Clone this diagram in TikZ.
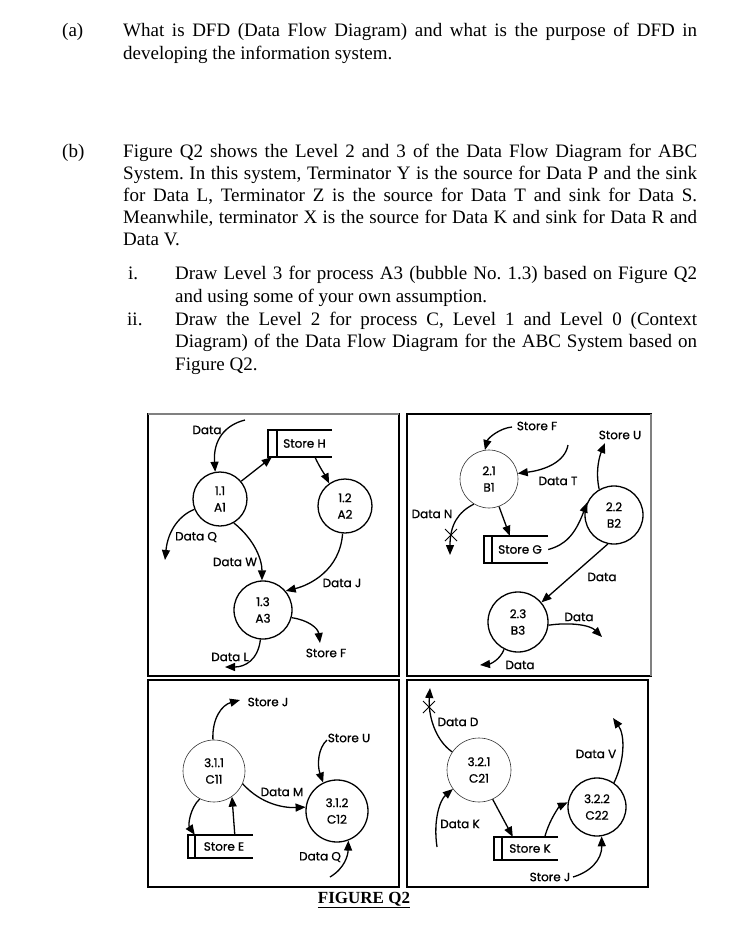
\documentclass[tikz,border=0pt]{standalone}
\usepackage{fontspec}
\setmainfont{Liberation Serif}
\newfontfamily\dfd{Poppins}[FakeBold=0.8]
\usetikzlibrary{arrows.meta}
\frenchspacing
\tikzset{
 body/.style={inner sep=0pt, anchor=base west, font=\fontsize{19}{22}\selectfont},
 proc/.style={circle, draw, line width=1.3pt, inner sep=0pt, align=center, font=\dfd\fontsize{12}{16.5}\selectfont},
 thinproc/.style={proc, line width=0.6pt, draw=black!80},
 lbl/.style={inner sep=1pt, font=\dfd\fontsize{12}{13}\selectfont},
 flow/.style={line width=1.3pt, -{Triangle[length=10pt,width=8pt]}},
 storebox/.style={inner sep=0pt, font=\dfd\fontsize{12}{13}\selectfont},
 storeline/.style={line width=1.5pt},
 frame/.style={line width=1.5pt},
 crossm/.style={line width=1pt},
}
\begin{document}
\begin{tikzpicture}[x=1pt,y=-1pt]
\useasboundingbox[fill=white] (0,0) rectangle (739,930);
% ---------- question text ----------
\node[body] (qa) at (62,36) {(a)};
\node[body] (a1l) at (123,36) {\makebox[574pt][s]{What is DFD (Data Flow Diagram) and what is the purpose of DFD in}};
\node[body] (a2l) at (123,59) {developing the information system.};
\node[body] (qb) at (62,157) {(b)};
\node[body] (b1l) at (123,157) {\makebox[574pt][s]{Figure Q2 shows the Level 2 and 3 of the Data Flow Diagram for ABC}};
\node[body] (b2l) at (123,179) {\makebox[574pt][s]{System. In this system, Terminator Y is the source for Data P and the sink}};
\node[body] (b3l) at (123,201) {\makebox[574pt][s]{for Data L, Terminator Z is the source for Data T and sink for Data S.}};
\node[body] (b4l) at (123,223) {\makebox[574pt][s]{Meanwhile, terminator X is the source for Data K and sink for Data R and}};
\node[body] (b5l) at (123,245) {Data V.};
\node[body] (qi) at (128,279) {i.};
\node[body] (i1l) at (175,279) {\makebox[522pt][s]{Draw Level 3 for process A3 (bubble No. 1.3) based on Figure Q2}};
\node[body] (i2l) at (175,302) {and using some of your own assumption.};
\node[body] (qii) at (127,325) {ii.};
\node[body] (ii1l) at (175,325) {\makebox[522pt][s]{Draw the Level 2 for process C, Level 1 and Level 0 (Context}};
\node[body] (ii2l) at (175,347) {\makebox[522pt][s]{Diagram) of the Data Flow Diagram for the ABC System based on}};
\node[body] (ii3l) at (175,370) {Figure Q2.};
% ---------- frames ----------
\draw[frame] (148,414) rectangle (399,676);
\draw[frame, draw=black!50] (148,414) -- (399,414);
\draw[frame] (407,414) rectangle (651,676);
\draw[frame, draw=black!50] (651,414) -- (651,676);
\draw[frame] (148,680) rectangle (399,887);
\draw[frame] (407,680) rectangle (648,887);
\node[inner sep=0pt, font=\bfseries\fontsize{17}{20}\selectfont] (fig) at (364,900) {\underline{FIGURE Q2}};
% ---------- panel 1 ----------
\node[proc, minimum size=54pt] (p11) at (220,499) {1.1\\A1};
\node[proc, minimum size=54pt] (p12) at (345,506) {1.2\\A2};
\node[proc, minimum size=58pt] (p13) at (263,610) {1.3\\A3};
\node[storebox, minimum width=64pt, minimum height=27pt] (sH) at (300,443.5) {\hspace*{9pt}Store H};
\draw[storeline] (sH.north east) -- (sH.north west) -- (sH.south west) -- (sH.south east);
\draw[storeline] ([xshift=9pt]sH.north west) -- ([xshift=9pt]sH.south west);
\node[lbl] (lA) at (207,430) {Data};
\node[lbl] (lQ) at (196,537) {Data Q};
\node[lbl] (lW) at (235,562) {Data W};
\node[lbl] (lJ) at (342,583) {Data J};
\node[lbl] (lF) at (326,653) {Store F};
\node[lbl] (lL) at (230,657) {Data L};
\coordinate (a1) at (245,420);
\coordinate (aQ) at (165,560);
\coordinate (aF) at (320,643);
\coordinate (aL) at (225,667);
\draw[flow] (a1) .. controls (225,425) and (213,440) .. (p11.100);
\draw[flow] (p11.40) -- ([xshift=4pt]sH.south west);
\draw[flow] ([xshift=15pt]sH.south) .. controls (320,468) and (325,475) .. (p12.125);
\draw[flow] (p11.202) .. controls (180,515) and (168,530) .. (aQ);
\draw[flow] (p11.300) .. controls (255,540) and (262,560) .. (p13.92);
\draw[flow] (p12.265) .. controls (340,570) and (310,585) .. (p13.40);
\draw[flow] (p13.345) .. controls (308,620) and (318,628) .. (aF);
\draw[flow] (p13.265) .. controls (258,660) and (245,667) .. (aL);
% ---------- panel 2 ----------
\node[thinproc, minimum size=58pt] (p21) at (489,479) {2.1\\B1};
\node[proc, minimum size=58pt] (p22) at (614,515) {2.2\\B2};
\node[proc, minimum size=60pt] (p23) at (518,622) {2.3\\B3};
\node[storebox, minimum width=64pt, minimum height=27pt] (sG) at (516,549.5) {\hspace*{8pt}Store G};
\draw[storeline] (sG.north east) -- (sG.north west) -- (sG.south west) -- (sG.south east);
\draw[storeline] ([xshift=8pt]sG.north west) -- ([xshift=8pt]sG.south west);
\node[lbl] (lSF) at (537,426) {Store F};
\node[lbl] (lT) at (558,481) {Data T};
\node[lbl] (lN) at (432,514) {Data N};
\node[lbl] (lSU) at (620,435) {Store U};
\node[lbl] (lD1) at (602,577) {Data};
\node[lbl] (lD2) at (579,617) {Data};
\node[lbl] (lD3) at (520,665) {Data};
\coordinate (bF) at (512,427);
\coordinate (bT) at (568,445);
\coordinate (bN) at (450,555);
\coordinate (bU) at (605,443);
\coordinate (bD2) at (602,637);
\coordinate (bD3) at (480,665);
\draw[flow] (bF) .. controls (500,428) and (488,438) .. (p21.98);
\draw[flow] (bT) .. controls (565,462) and (545,470) .. (p21.11);
\draw[flow] (p21.239) .. controls (458,512) and (450,525) .. (bN);
\draw[crossm] (445,529) -- (457,541) (457,529) -- (445,541);
\draw[flow] (p21.290) -- ([xshift=26pt]sG.north west);
\draw[flow] (sG.east) .. controls (565,545) and (575,535) .. (p22.155);
\draw[flow] (p22.120) .. controls (595,470) and (600,455) .. (bU);
\draw[flow] (p22.258) -- (p23.40);
\draw[flow] (p23.354) .. controls (570,622) and (590,625) .. (bD2);
\draw[flow] (p23.243) .. controls (500,660) and (490,664) .. (bD3);
% ---------- panel 3 ----------
\node[thinproc, minimum size=62pt] (p311) at (214,771) {3.1.1\\C11};
\node[proc, minimum size=62pt] (p312) at (337,811) {3.1.2\\C12};
\node[storebox, minimum width=65pt, minimum height=23pt] (sE) at (220.5,846.5) {\hspace*{7pt}Store E};
\draw[storeline] (sE.north east) -- (sE.north west) -- (sE.south west) -- (sE.south east);
\draw[storeline] ([xshift=7pt]sE.north west) -- ([xshift=7pt]sE.south west);
\node[lbl] (lSJ) at (268,702) {Store J};
\node[lbl] (lM) at (282,792) {Data M};
\node[lbl] (lSU2) at (349,738) {Store U};
\node[lbl] (lQ2) at (320,857) {Data Q};
\coordinate (cJ) at (240,700);
\coordinate (cU) at (327,740);
\coordinate (cQ) at (330,877);
\draw[flow] (p311.92) .. controls (212,718) and (222,705) .. (cJ);
\draw[flow] (p311.336) .. controls (262,805) and (285,808) .. (p312.173);
\draw[flow] (cU) .. controls (318,748) and (317,765) .. (p312.116);
\draw[flow] (cQ) .. controls (345,868) and (348,855) .. (p312.291);
\draw[flow] (p311.243) .. controls (190,808) and (188,825) .. ([xshift=7pt]sE.north west);
\draw[flow] ([xshift=47pt]sE.north west) -- (p311.305);
% ---------- panel 4 ----------
\node[thinproc, minimum size=64pt] (p321) at (479,770) {3.2.1\\C21};
\node[proc, minimum size=58pt] (p322) at (597,807) {3.2.2\\C22};
\node[storebox, minimum width=64pt, minimum height=23pt] (sK) at (526,848.5) {\hspace*{8pt}Store K};
\draw[storeline] (sK.north east) -- (sK.north west) -- (sK.south west) -- (sK.south east);
\draw[storeline] ([xshift=8pt]sK.north west) -- ([xshift=8pt]sK.south west);
\node[lbl] (lDD) at (458,722) {Data D};
\node[lbl] (lDK) at (460,824) {Data K};
\node[lbl] (lDV) at (596,754) {Data V};
\node[lbl] (lSJ2) at (550,877) {Store J};
\coordinate (dD) at (430,688);
\coordinate (dK) at (437,847);
\coordinate (dV) at (613,718);
\coordinate (dJ) at (573,877);
\draw[flow] (p321.146) .. controls (435,740) and (428,715) .. (dD);
\draw[crossm] (423,701) -- (435,713) (435,701) -- (423,713);
\draw[flow] (dK) .. controls (433,820) and (440,800) .. (p321.216);
\draw[flow] (p321.295) -- ([xshift=19pt]sK.north west);
\draw[flow] ([xshift=51pt]sK.north west) .. controls (550,818) and (560,806) .. (p322.171);
\draw[flow] (p322.55) .. controls (625,760) and (625,735) .. (dV);
\draw[flow] (dJ) .. controls (590,872) and (602,860) .. (p322.279);
\end{tikzpicture}
\end{document}
